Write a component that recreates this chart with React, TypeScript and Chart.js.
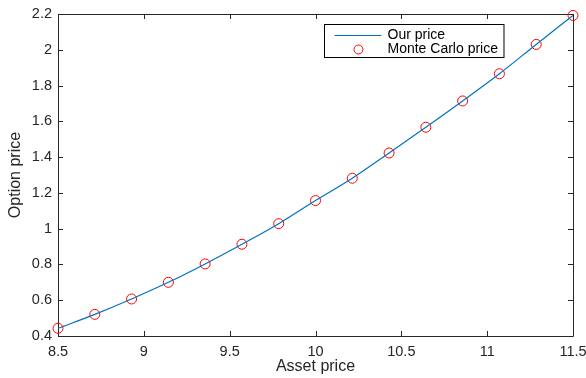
import React, { useEffect, useRef } from "react";
import { Chart, registerables } from "chart.js";

Chart.register(...registerables);

const assetPrices = [8.5, 8.7143, 8.9286, 9.1429, 9.3571, 9.5714, 9.7857, 10, 10.2143, 10.4286, 10.6429, 10.8571, 11.0714, 11.2857, 11.5];
const ourPrice = [0.443, 0.521, 0.607, 0.7, 0.803, 0.913, 1.028, 1.157, 1.282, 1.423, 1.567, 1.714, 1.866, 2.03, 2.192];
const monteCarloPrice = [0.443, 0.521, 0.607, 0.7, 0.803, 0.913, 1.028, 1.157, 1.282, 1.423, 1.567, 1.714, 1.866, 2.03, 2.192];
const xTicks = [8.5, 9, 9.5, 10, 10.5, 11, 11.5];
const xTickLabels = ["8.5", "9", "9.5", "10", "10.5", "11", "11.5"];
const yTicks = [0.4, 0.6, 0.8, 1, 1.2, 1.4, 1.6, 1.8, 2, 2.2];
const yTickLabels = ["0.4", "0.6", "0.8", "1", "1.2", "1.4", "1.6", "1.8", "2", "2.2"];
const seriesNames = ["Our price", "Monte Carlo price"];

const FONT = "'Liberation Sans', Arial, Helvetica, sans-serif";
const AXIS_COLOR = "#262626";
const LINE_COLOR = "#0072BD";
const MARKER_COLOR = "#FF0000";

const boxPlugin = {
  id: "matlabBox",
  beforeDatasetsDraw(chart: any) {
    const { ctx, chartArea } = chart;
    const { left, right, top, bottom } = chartArea;
    const xs = chart.scales.x;
    const ys = chart.scales.y;
    const tl = 5;
    ctx.save();
    ctx.strokeStyle = AXIS_COLOR;
    ctx.lineWidth = 1;
    ctx.beginPath();
    ctx.rect(Math.round(left) + 0.5, Math.round(top) + 0.5, Math.round(right - left), Math.round(bottom - top));
    ctx.stroke();
    ctx.beginPath();
    xTicks.forEach((v) => {
      const px = Math.round(xs.getPixelForValue(v)) + 0.5;
      ctx.moveTo(px, bottom);
      ctx.lineTo(px, bottom - tl);
      ctx.moveTo(px, top);
      ctx.lineTo(px, top + tl);
    });
    yTicks.forEach((v) => {
      const py = Math.round(ys.getPixelForValue(v)) + 0.5;
      ctx.moveTo(left, py);
      ctx.lineTo(left + tl, py);
      ctx.moveTo(right, py);
      ctx.lineTo(right - tl, py);
    });
    ctx.stroke();
    ctx.restore();
  },
  afterDraw(chart: any) {
    const { ctx, chartArea } = chart;
    const { right, top } = chartArea;
    ctx.save();
    ctx.font = `14px ${FONT}`;
    const textW = Math.max(...seriesNames.map((n) => ctx.measureText(n).width));
    const boxW = 63 + textW + 6;
    const boxH = 33;
    const bx = Math.round(right - 70 - boxW) + 0.5;
    const by = Math.round(top + 10) + 0.5;
    ctx.fillStyle = "#ffffff";
    ctx.fillRect(bx, by, boxW, boxH);
    ctx.strokeStyle = "#000000";
    ctx.lineWidth = 1;
    ctx.strokeRect(bx, by, boxW, boxH);
    const row1 = by + 11;
    const row2 = by + 25;
    ctx.strokeStyle = LINE_COLOR;
    ctx.lineWidth = 1.2;
    ctx.beginPath();
    ctx.moveTo(bx + 10, row1);
    ctx.lineTo(bx + 57, row1);
    ctx.stroke();
    ctx.strokeStyle = MARKER_COLOR;
    ctx.lineWidth = 1;
    ctx.beginPath();
    ctx.arc(bx + 34, row2, 4.5, 0, Math.PI * 2);
    ctx.stroke();
    ctx.fillStyle = "#000000";
    ctx.textBaseline = "middle";
    ctx.textAlign = "left";
    ctx.fillText(seriesNames[0], bx + 63, row1);
    ctx.fillText(seriesNames[1], bx + 63, row2);
    ctx.restore();
  },
};

export default function App() {
  const ref = useRef<HTMLCanvasElement | null>(null);
  useEffect(() => {
    document.body.style.margin = "0";
    const canvas = ref.current;
    if (!canvas) return;
    const chart = new Chart(canvas, {
      type: "line",
      data: {
        datasets: [
          {
            label: seriesNames[0],
            data: assetPrices.map((x, i) => ({ x, y: ourPrice[i] })),
            borderColor: LINE_COLOR,
            borderWidth: 1.2,
            pointRadius: 0,
            fill: false,
            cubicInterpolationMode: "monotone",
          },
          {
            label: seriesNames[1],
            data: assetPrices.map((x, i) => ({ x, y: monteCarloPrice[i] })),
            showLine: false,
            borderColor: MARKER_COLOR,
            backgroundColor: "rgba(0,0,0,0)",
            pointRadius: 5,
            pointBorderWidth: 1,
            pointStyle: "circle",
            clip: false,
          },
        ],
      },
      options: {
        animation: false,
        responsive: false,
        maintainAspectRatio: false,
        layout: { padding: { top: 14, right: 13, left: 0, bottom: 0 } },
        plugins: { legend: { display: false }, tooltip: { enabled: false } },
        scales: {
          x: {
            type: "linear",
            min: 8.5,
            max: 11.5,
            grid: { display: false, drawTicks: false },
            border: { display: false },
            afterBuildTicks: (s: any) => {
              s.ticks = xTicks.map((v) => ({ value: v }));
            },
            afterFit: (s: any) => {
              s.height = 42;
              s.paddingLeft = 0;
              s.paddingRight = 0;
            },
            ticks: {
              padding: 7,
              color: AXIS_COLOR,
              font: { family: FONT, size: 14.5 },
              maxRotation: 0,
              autoSkip: false,
              callback: (v: any) => xTickLabels[xTicks.indexOf(Number(v))] ?? "",
            },
            title: {
              display: true,
              text: "Asset price",
              color: AXIS_COLOR,
              font: { family: FONT, size: 16 },
              padding: { top: 0, bottom: 2 },
            },
          },
          y: {
            type: "linear",
            min: 0.4,
            max: 2.2,
            grid: { display: false, drawTicks: false },
            border: { display: false },
            afterBuildTicks: (s: any) => {
              s.ticks = yTicks.map((v) => ({ value: v }));
            },
            afterFit: (s: any) => {
              s.width = 58;
              s.paddingTop = 0;
              s.paddingBottom = 0;
            },
            ticks: {
              padding: 6,
              color: AXIS_COLOR,
              font: { family: FONT, size: 14.5 },
              autoSkip: false,
              callback: (v: any) => {
                const i = yTicks.findIndex((t) => Math.abs(t - Number(v)) < 1e-6);
                return i >= 0 ? yTickLabels[i] : "";
              },
            },
            title: {
              display: true,
              text: "Option price",
              color: AXIS_COLOR,
              font: { family: FONT, size: 16 },
              padding: { top: 6, bottom: 0 },
            },
          },
        },
      },
      plugins: [boxPlugin],
    } as any);
    return () => chart.destroy();
  }, []);
  return (
    <div style={{ width: 586, height: 378, background: "#fff" }}>
      <canvas ref={ref} width={586} height={378} style={{ display: "block" }} />
    </div>
  );
}
